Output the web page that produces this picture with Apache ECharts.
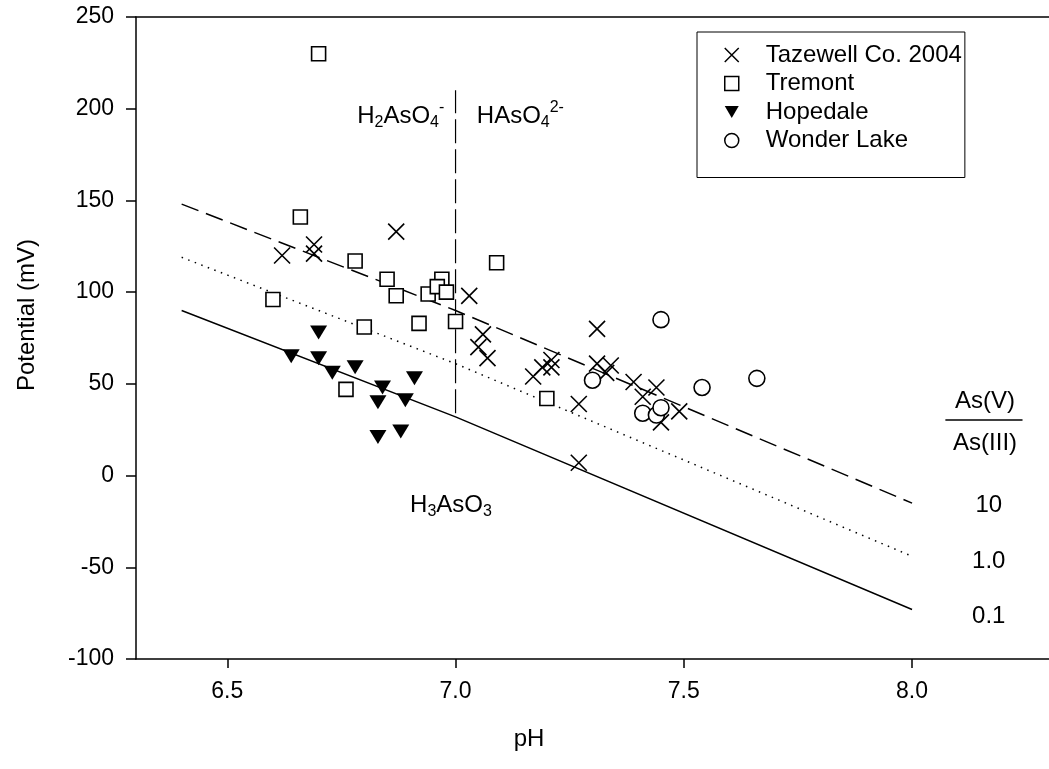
<!DOCTYPE html>
<html><head><meta charset="utf-8">
<script src="https://cdn.jsdelivr.net/npm/echarts@6/dist/echarts.min.js"></script>
<style>html,body{margin:0;padding:0;background:#fff}#c{width:1049px;height:769px}</style>
</head><body><div id="c"></div>
<script>
// ---- data (pH, potential mV) ----
const tazewell = [[6.62,120],[6.69,126],[6.69,121],[6.87,133],[7.03,98],[7.06,77],[7.05,70],[7.07,64],
  [7.17,54],[7.19,59],[7.21,63],[7.21,59],[7.31,80],[7.31,61],[7.34,60],[7.33,56],[7.39,51],[7.44,48],
  [7.41,43],[7.49,35],[7.45,29],[7.27,39],[7.27,7]];
const tremont = [[6.70,230],[6.66,141],[6.78,117],[6.85,107],[6.60,96],[6.87,98],[6.94,99],[6.97,107],
  [6.96,103],[6.98,100],[7.09,116],[6.80,81],[6.92,83],[7.00,84],[6.76,47],[7.20,42]];
const hopedale = [[6.70,78],[6.64,65],[6.70,64],[6.73,56],[6.78,59],[6.91,53],[6.84,48],[6.83,40],
  [6.89,41],[6.83,21],[6.88,24]];
const wonderLake = [[7.30,52],[7.45,85],[7.54,48],[7.66,53],[7.41,34],[7.44,33],[7.45,37]];
// As(V)/As(III) ratio lines
const ratio10 = [[6.4,148],[7.0,90],[8.0,-15]];
const ratio1 = [[6.4,119],[7.0,61],[8.0,-44]];
const ratio01 = [[6.4,90],[7.0,32],[8.0,-73]];
// H2AsO4- / HAsO4 2- boundary
const boundary = [[7.0,34],[7.0,210]];
const xTickValues = [6.5, 7.0, 7.5, 8.0];
const seriesNames = ['Tazewell Co. 2004','Tremont','Hopedale','Wonder Lake'];
// annotations
const speciesLabels = [
  {value:[6.88,196], label:'{m|H}{s|2}{m|AsO}{s|4}{p|-}'},
  {value:[7.142,196], label:'{m|HAsO}{s|4}{p|2-}'},
  {value:[6.99,-16], label:'{m|H}{s|3}{m|AsO}{s|3}'}
];
const ratioLabels = [
  {value:[8.16,40.2], label:'As(V)'},
  {value:[8.16,17.5], label:'As(III)'},
  {value:[8.168,-16], label:'10'},
  {value:[8.168,-47], label:'1.0'},
  {value:[8.168,-77], label:'0.1'}
];
const fractionBar = [[8.073,30.3],[8.242,30.3]];

const FONT = '"Liberation Sans", Arial, sans-serif';
const xPath = 'path://M0,0L10,10M10,0L0,10';
const triPath = 'path://M0,0L10,0L5,8.6Z';
const black = '#000';

const chart = echarts.init(document.getElementById('c'), null, {renderer:'canvas'});
const axisCommon = {
  axisLine:{show:true, onZero:false, lineStyle:{color:black, width:1.5}},
  splitLine:{show:false}
};
const option = {
  animation:false,
  backgroundColor:'#fff',
  textStyle:{fontFamily:FONT, color:black},
  grid:{left:136, top:17, width:917, height:642, containLabel:false},
  xAxis:[{
    type:'value', position:'bottom', min:6.3, max:8.3,
    ...axisCommon,
    axisTick:{show:true, inside:false, length:9, customValues:xTickValues, lineStyle:{color:black, width:1.5}},
    axisLabel:{show:true, customValues:xTickValues, margin:21, fontSize:23, fontFamily:FONT, color:black,
      formatter:v=>v.toFixed(1)},
    name:'pH', nameLocation:'middle', nameGap:68,
    nameTextStyle:{fontSize:24, fontFamily:FONT, color:black, padding:[0,127,0,0]}
  },{
    type:'value', position:'top', min:6.3, max:8.3,
    ...axisCommon,
    axisTick:{show:false}, axisLabel:{show:false}
  }],
  yAxis:{
    type:'value', min:-100, max:250, interval:50,
    ...axisCommon,
    axisTick:{show:true, inside:false, length:10, lineStyle:{color:black, width:1.5}},
    axisLabel:{margin:22, fontSize:23, fontFamily:FONT, color:black},
    name:'Potential (mV)', nameLocation:'middle', nameGap:97,
    nameTextStyle:{fontSize:24, fontFamily:FONT, color:black, padding:[0,0,0,46]}
  },
  legend:{
    orient:'vertical', left:697, top:32, padding:[11,3,25,27],
    borderColor:black, borderWidth:1, selectedMode:false,
    itemWidth:14, itemHeight:14, itemGap:4.5,
    textStyle:{fontSize:24, fontFamily:FONT, color:black, lineHeight:24, padding:[0,0,0,22]},
    data:[
      {name:seriesNames[0], icon:xPath, itemStyle:{color:'rgba(0,0,0,0)', borderColor:black, borderWidth:1.5, opacity:1}},
      {name:seriesNames[1], icon:'rect', itemStyle:{color:'#fff', borderColor:black, borderWidth:1.5, opacity:1}},
      {name:seriesNames[2], icon:triPath, itemStyle:{color:black, borderColor:black, borderWidth:0, opacity:1}},
      {name:seriesNames[3], icon:'circle', itemStyle:{color:'#fff', borderColor:black, borderWidth:1.5, opacity:1}}
    ]
  },
  series:[
    {type:'line', data:ratio10, symbol:'none', silent:true, z:1,
      lineStyle:{color:black, width:1.5, type:[18,8]}},
    {type:'line', data:ratio1, symbol:'none', silent:true, z:1,
      lineStyle:{color:black, width:1.5, type:[1.5,5.5]}},
    {type:'line', data:ratio01, symbol:'none', silent:true, z:1,
      lineStyle:{color:black, width:1.5}},
    {type:'line', data:boundary, symbol:'none', silent:true, z:1,
      lineStyle:{color:black, width:1.2, type:[24,6]}},
    {type:'line', data:fractionBar, symbol:'none', silent:true, z:1,
      lineStyle:{color:black, width:1.5}},
    {name:seriesNames[0], type:'scatter', data:tazewell, symbol:xPath, symbolSize:16, z:3,
      itemStyle:{color:'rgba(0,0,0,0)', borderColor:black, borderWidth:1.6, opacity:1}},
    {name:seriesNames[1], type:'scatter', data:tremont, symbol:'rect', symbolSize:14, z:3,
      itemStyle:{color:'#fff', borderColor:black, borderWidth:1.6, opacity:1}},
    {name:seriesNames[2], type:'scatter', data:hopedale, symbol:triPath, symbolSize:[17,14], z:3,
      itemStyle:{color:black, opacity:1}},
    {name:seriesNames[3], type:'scatter', data:wonderLake, symbol:'circle', symbolSize:16, z:3,
      itemStyle:{color:'#fff', borderColor:black, borderWidth:1.6, opacity:1}},
    {type:'scatter', data:speciesLabels, symbolSize:0, silent:true, z:4,
      itemStyle:{opacity:1},
      label:{show:true, position:'inside', formatter:p=>p.data.label, color:black, opacity:1,
        rich:{
          m:{fontSize:24, fontFamily:FONT, color:black, lineHeight:30},
          s:{fontSize:16, fontFamily:FONT, color:black, lineHeight:16, padding:[13,0,0,0]},
          p:{fontSize:16, fontFamily:FONT, color:black, lineHeight:16, padding:[0,0,17,0]}
        }}},
    {type:'scatter', data:ratioLabels, symbolSize:0, silent:true, z:4,
      itemStyle:{opacity:1},
      label:{show:true, position:'inside', formatter:p=>p.data.label, color:black, opacity:1,
        fontSize:24, fontFamily:FONT}}
  ]
};
chart.setOption(option);
</script></body></html>
